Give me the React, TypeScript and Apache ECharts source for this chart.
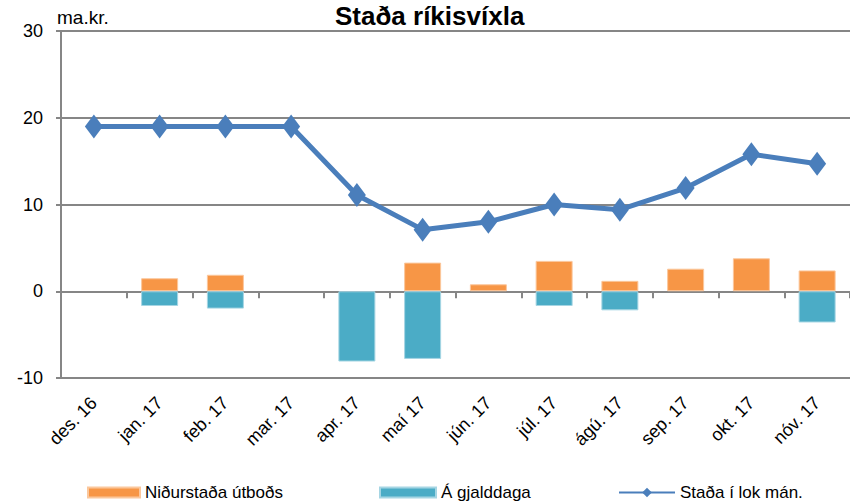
import React, { useEffect, useRef } from "react";
import * as echarts from "echarts";

const categories = ["des. 16", "jan. 17", "feb. 17", "mar. 17", "apr. 17", "maí 17", "jún. 17", "júl. 17", "ágú. 17", "sep. 17", "okt. 17", "nóv. 17"];
const nidurstada = [null, 1.5, 1.9, null, null, 3.3, 0.8, 3.5, 1.2, 2.6, 3.8, 2.4];
const gjalddaga = [null, -1.7, -2.0, null, -8.1, -7.8, null, -1.7, -2.2, null, null, -3.6];
const stada = [19.0, 19.0, 19.0, 19.0, 11.1, 7.1, 8.0, 10.0, 9.4, 11.9, 15.8, 14.7];
const yTicks = { min: -10, max: 30, interval: 10 };

const FONT = "'Liberation Sans', Arial, sans-serif";
const GRAY = "#868686";

export default function App() {
  const ref = useRef<HTMLDivElement>(null);
  useEffect(() => {
    if (!ref.current) return;
    const chart = echarts.init(ref.current, undefined, { renderer: "svg" });
    const legendText = { fontSize: 17, color: "#000", fontFamily: FONT };
    chart.setOption({
      animation: false,
      backgroundColor: "#ffffff",
      textStyle: { fontFamily: FONT, color: "#000" },
      graphic: [
        {
          type: "text",
          left: 335,
          top: 3,
          style: { text: "Staða ríkisvíxla", fontSize: 26, fontWeight: "bold", fill: "#000", fontFamily: FONT },
        },
        {
          type: "text",
          left: 57,
          top: 8,
          style: { text: "ma.kr.", fontSize: 19, fill: "#000", fontFamily: FONT },
        },
      ],
      legend: [
        {
          data: ["Niðurstaða útboðs"],
          left: 87,
          top: 484,
          padding: 0,
          icon: "rect",
          itemWidth: 52,
          itemHeight: 10,
          textStyle: legendText,
        },
        {
          data: ["Á gjalddaga"],
          left: 379,
          top: 484,
          padding: 0,
          icon: "rect",
          itemWidth: 56,
          itemHeight: 10,
          textStyle: legendText,
        },
        {
          data: ["Staða í lok mán."],
          left: 618,
          top: 484,
          padding: 0,
          itemWidth: 56,
          itemHeight: 12,
          textStyle: legendText,
        },
      ],
      grid: { left: 61, right: -10, top: 31, bottom: 125, containLabel: false },
      xAxis: [
        {
          type: "category",
          data: categories,
          position: "bottom",
          axisLine: { onZero: true, lineStyle: { color: GRAY, width: 2 } },
          axisTick: { show: true, length: 7, lineStyle: { color: GRAY, width: 2 } },
          axisLabel: { show: false },
          splitLine: { show: false },
        },
        {
          type: "category",
          data: categories,
          position: "bottom",
          axisLine: { show: false, onZero: false },
          axisTick: { show: false },
          axisLabel: { rotate: 45, fontSize: 18, color: "#000", margin: 22, fontFamily: FONT, interval: 0 },
          splitLine: { show: false },
        },
      ],
      yAxis: {
        type: "value",
        min: yTicks.min,
        max: yTicks.max,
        interval: yTicks.interval,
        axisLine: { show: true, lineStyle: { color: GRAY, width: 2 } },
        axisTick: { show: true, length: 5, lineStyle: { color: GRAY, width: 2 } },
        axisLabel: { fontSize: 18, color: "#000", margin: 18, fontFamily: FONT },
        splitLine: { show: true, lineStyle: { color: GRAY, width: 2 } },
      },
      series: [
        {
          name: "Niðurstaða útboðs",
          type: "bar",
          stack: "flow",
          xAxisIndex: 0,
          barWidth: 37,
          data: nidurstada,
          itemStyle: { color: "#f79646", borderColor: "#fbc79c", borderWidth: 1 },
        },
        {
          name: "Á gjalddaga",
          type: "bar",
          stack: "flow",
          xAxisIndex: 0,
          barWidth: 37,
          data: gjalddaga,
          itemStyle: { color: "#4bacc6", borderColor: "#a5d5e3", borderWidth: 1 },
        },
        {
          name: "Staða í lok mán.",
          type: "line",
          xAxisIndex: 0,
          data: stada,
          z: 5,
          symbol: "diamond",
          symbolSize: [18, 24],
          lineStyle: { color: "#4a7ebb", width: 5 },
          itemStyle: { color: "#4a7ebb" },
        },
      ],
    });
    return () => chart.dispose();
  }, []);
  return (
    <div
      ref={ref}
      style={{ position: "fixed", left: 0, top: 0, width: 850, height: 503, background: "#fff" }}
    />
  );
}
